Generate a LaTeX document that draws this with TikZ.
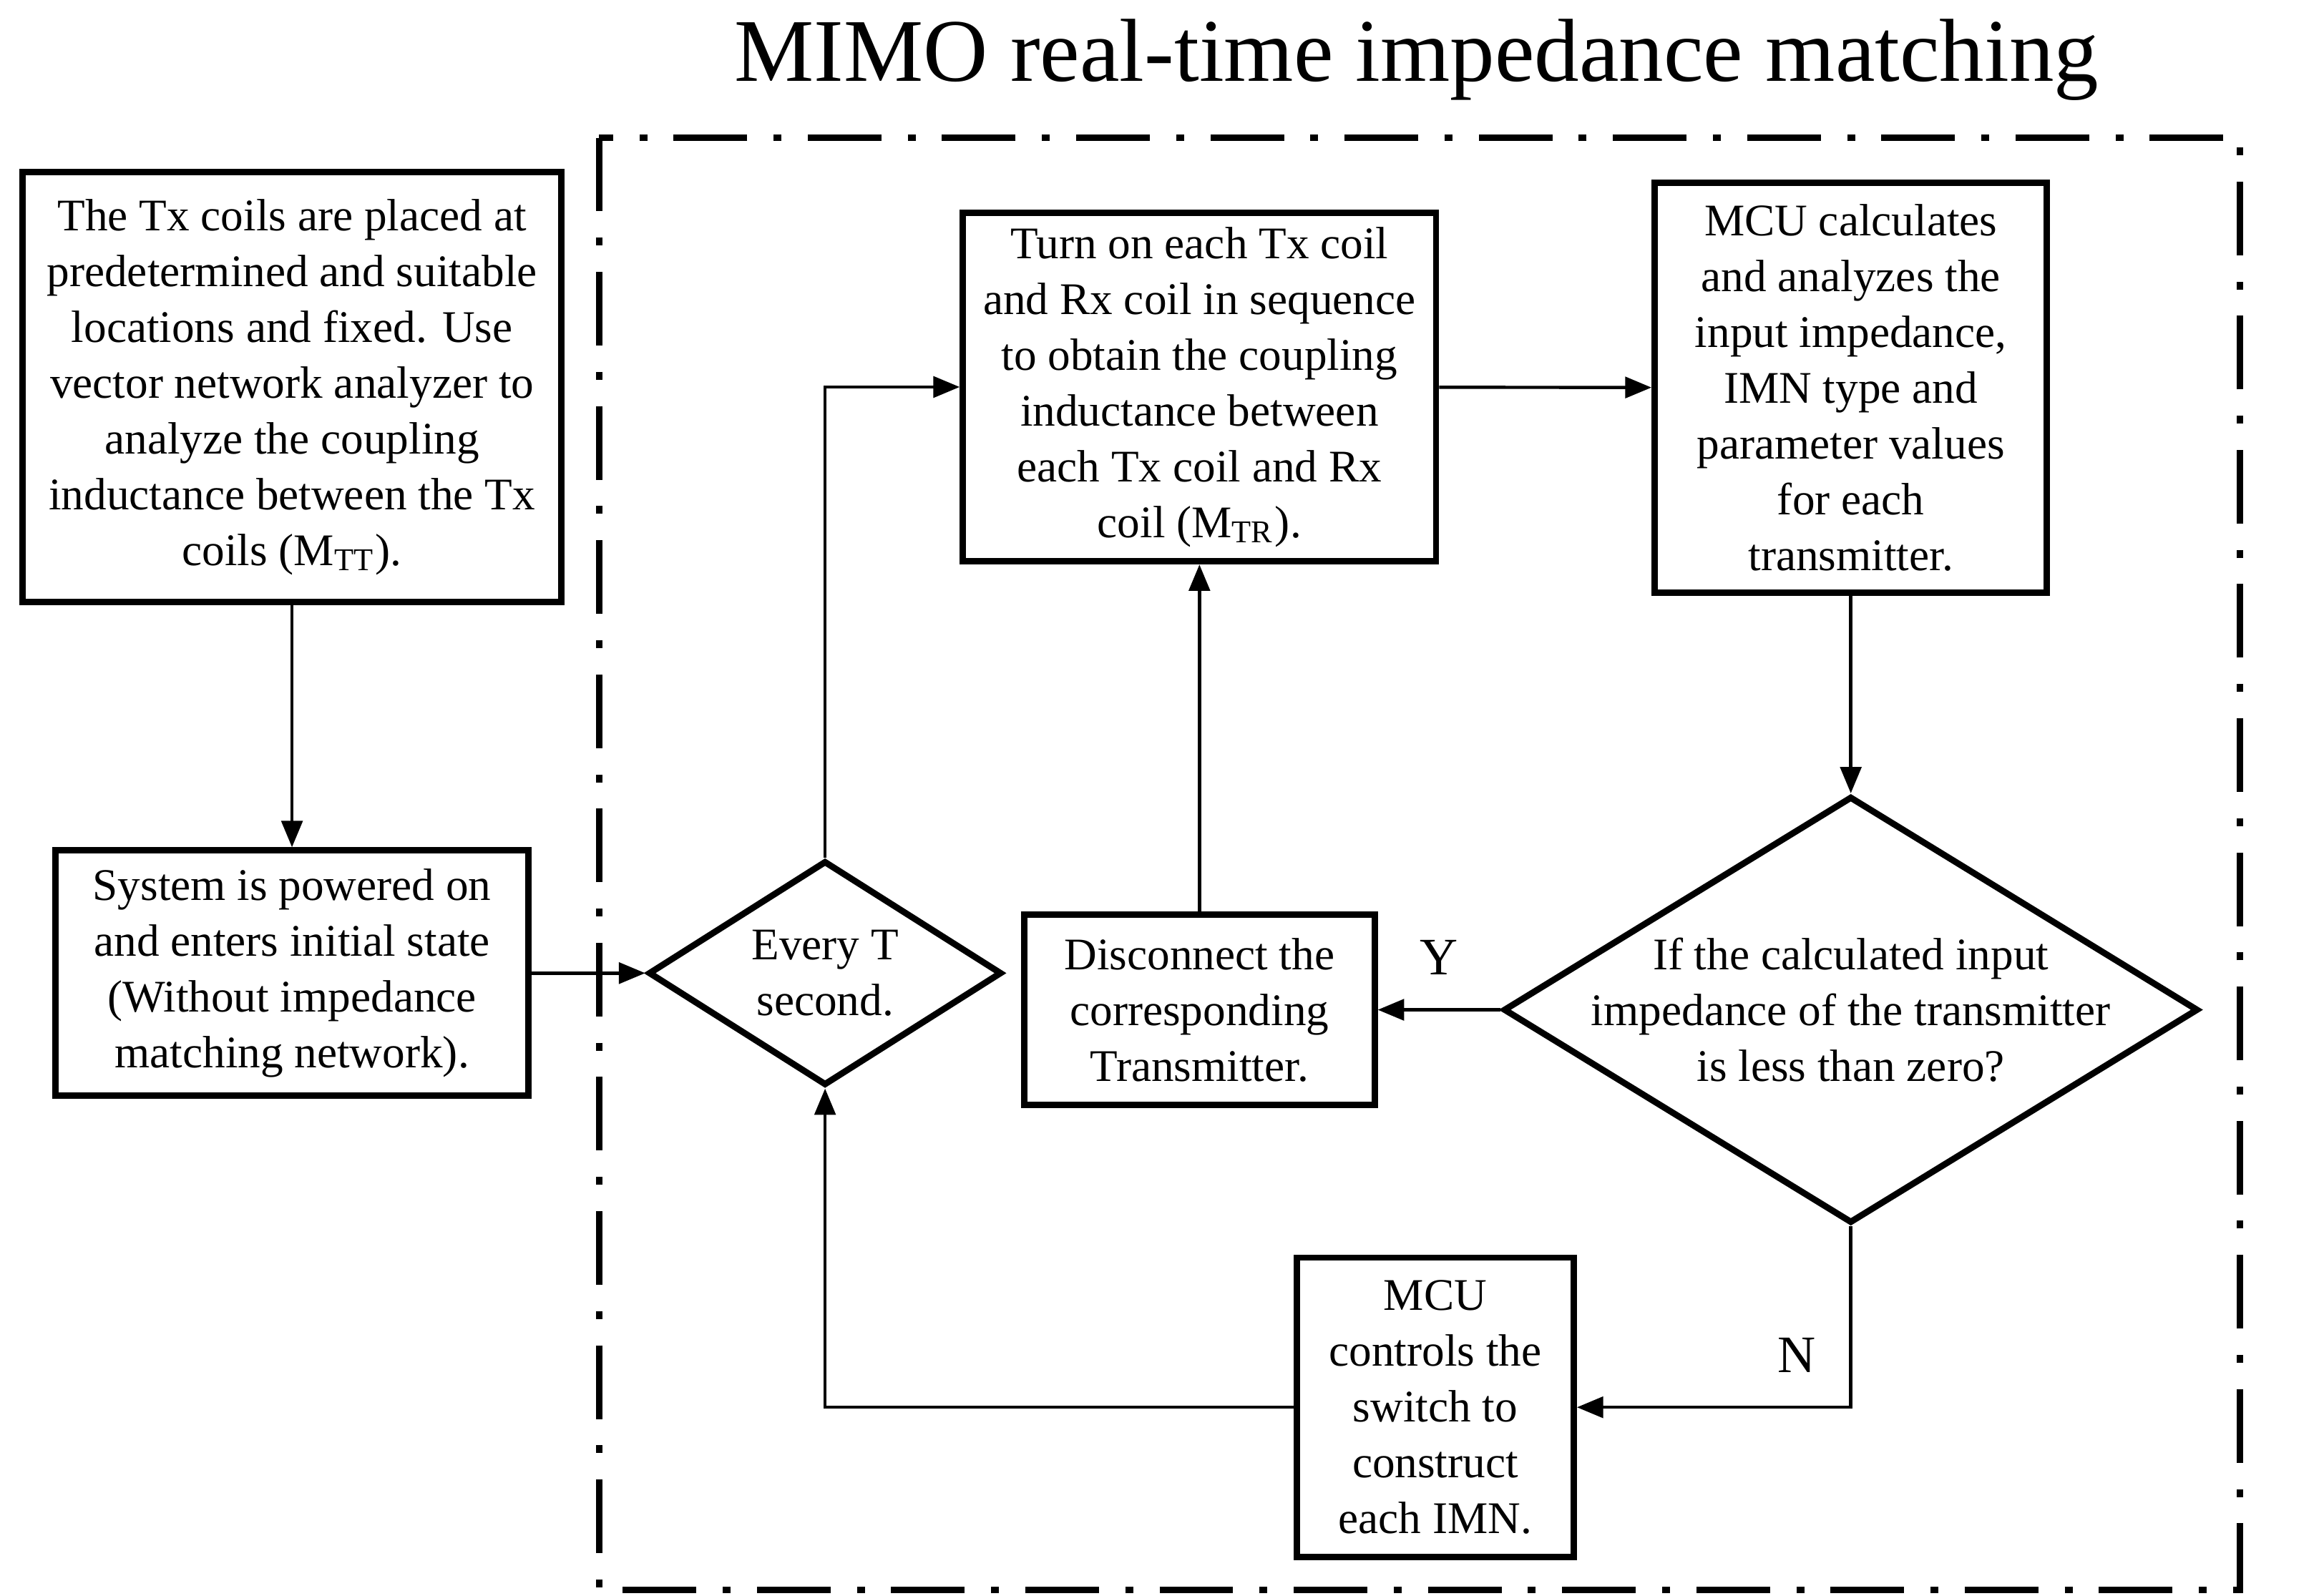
\documentclass[tikz,border=0pt]{standalone}
\usepackage{fontspec}
\setmainfont{Liberation Serif}
\usetikzlibrary{positioning, shapes.geometric, arrows.meta}
\begin{document}
\begin{tikzpicture}[
	box/.style = {draw, rectangle, align=center, very thick, inner sep=1pt, font=\fontsize{8.6}{10.6}\selectfont},
	choice/.style = {draw, diamond, align=center, very thick, inner sep=-6pt, font=\fontsize{8.6}{10.6}\selectfont},
	flow/.style = {draw, -{Triangle[length=5pt,width=4pt]}, semithick},
	every edge/.style = {flow}
]
  \useasboundingbox (0,0) rectangle (15.52,-10.66);
  % Title and frame
  \node at (9.46,-0.40) (title) {\fontsize{17}{20}\selectfont MIMO real-time impedance matching};
  \draw[very thick, dash pattern=on 14pt off 5pt on 1.5pt off 5pt] (4.00,-0.92) rectangle (14.96,-10.62);
  % Define vertices
  \node[box, minimum width=3.6cm, minimum height=2.87cm] at (1.95,-2.585) (place) {The Tx coils are placed at\\predetermined and suitable\\locations and fixed. Use\\vector network analyzer to\\analyze the coupling\\inductance between the Tx\\coils (M\textsubscript{TT}).};
  \node[box, minimum width=3.16cm, minimum height=1.64cm] at (1.95,-6.50) (power) {System is powered on\\and enters initial state\\(Without impedance\\matching network).};
  \node[choice, minimum width=2.36cm, minimum height=1.5cm] at (5.51,-6.50) (every) {Every T\\second.};
  \node[box, minimum width=3.16cm, minimum height=2.33cm] at (8.01,-2.585) (turn) {Turn on each Tx coil\\and Rx coil in sequence\\to obtain the coupling\\inductance between\\each Tx coil and Rx\\coil (M\textsubscript{TR}).};
  \node[box, minimum width=2.62cm, minimum height=2.74cm] at (12.36,-2.59) (calc) {MCU calculates\\and analyzes the\\input impedance,\\IMN type and\\parameter values\\for each\\transmitter.};
  \node[choice, minimum width=4.64cm, minimum height=2.85cm, inner sep=-14pt] at (12.36,-6.745) (less) {If the calculated input\\impedance of the transmitter\\is less than zero?};
  \node[box, minimum width=2.34cm, minimum height=1.27cm] at (8.01,-6.745) (disc) {Disconnect the\\corresponding\\Transmitter.};
  \node[box, minimum width=1.85cm, minimum height=2.0cm] at (9.585,-9.40) (ctrl) {MCU\\controls the\\switch to\\construct\\each IMN.};

  \draw (place) edge (power);
  \draw (power) edge (every);
  \draw[flow] (every.north) |- (turn.west);
  \draw (turn) edge (calc);
  \draw (calc) edge (less);
  \draw (less) edge node[above, pos=0.5, yshift=3pt] {Y} (disc);
  \draw (disc) edge (turn);
  \draw[flow] (less.south) |- node[above left, pos=0.5, xshift=-3pt, yshift=3pt] {N} (ctrl.east);
  \draw[flow] (ctrl.west) -| (every.south);
\end{tikzpicture}
\end{document}
